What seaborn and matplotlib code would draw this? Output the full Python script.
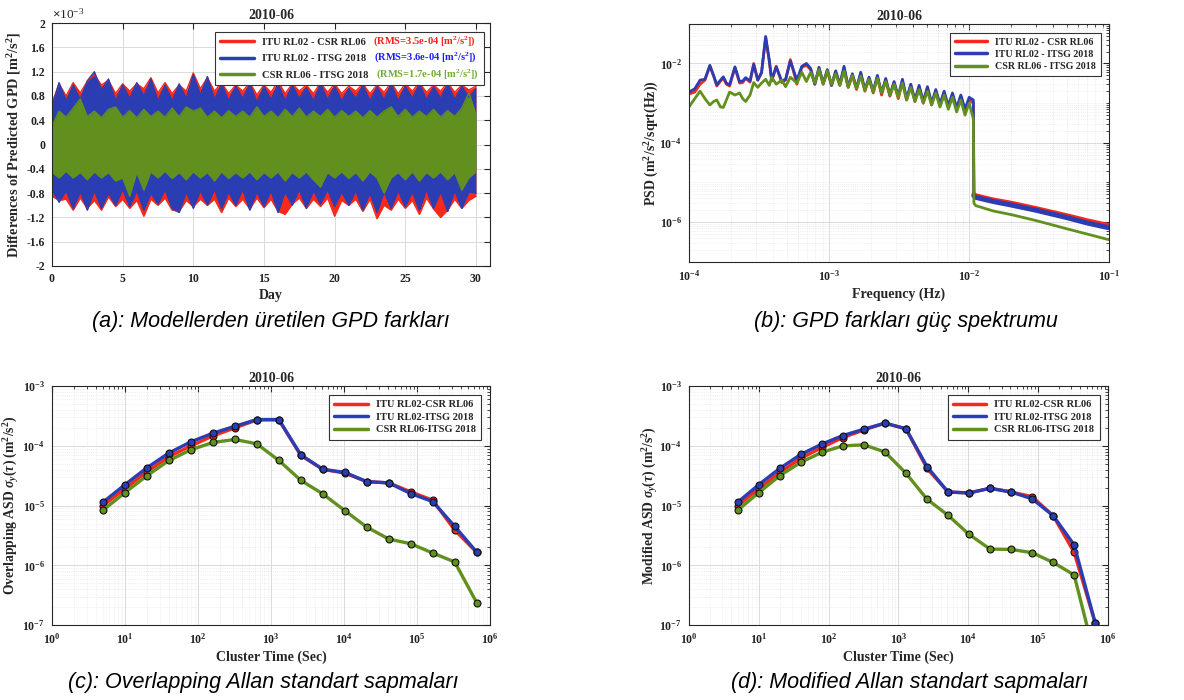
import numpy as np
import matplotlib
matplotlib.use("Agg")
import matplotlib.pyplot as plt
import seaborn as sns
from matplotlib.lines import Line2D
from matplotlib.patches import Rectangle
from matplotlib.transforms import Bbox
from matplotlib.ticker import LogLocator, NullFormatter

sns.set_style("white")
plt.rcParams['font.family'] = ['Liberation Serif', 'DejaVu Serif']
plt.rcParams['font.weight'] = 'bold'
plt.rcParams['axes.labelweight'] = 'bold'
plt.rcParams['axes.titleweight'] = 'bold'
plt.rcParams['mathtext.fontset'] = 'custom'
plt.rcParams['mathtext.rm'] = 'Liberation Serif:bold'
plt.rcParams['mathtext.it'] = 'Liberation Serif:italic:bold'
plt.rcParams['mathtext.bf'] = 'Liberation Serif:bold'

RED, BLUE, GREEN = '#F7291A', '#2A3DB2', '#62901E'
RMS_COLORS = ['#FF1E1E', '#1E1EFF', '#72AC36']

pairs_a = ['ITU RL02 - CSR RL06', 'ITU RL02 - ITSG 2018', 'CSR RL06 - ITSG 2018']
pairs_c = ['ITU RL02-CSR RL06', 'ITU RL02-ITSG 2018', 'CSR RL06-ITSG 2018']
rms_labels = ['(RMS=3.5e-04 [m$^2$/s$^2$])', '(RMS=3.6e-04 [m$^2$/s$^2$])', '(RMS=1.7e-04 [m$^2$/s$^2$])']

# (a) GPD differences, x1e-3 m^2/s^2 -- band edges read every half day
days = np.arange(0, 30.01, 0.5)
red_up = [0.68, 1.0, 0.8, 1.02, 0.85, 1.04, 1.15, 0.98, 1.06, 0.84, 1.0, 0.88, 1.0, 0.92, 1.1, 0.85, 1.02, 0.84, 0.98, 0.88,
          1.18, 0.92, 1.1, 0.88, 1.02, 0.84, 0.98, 0.88, 1.02, 0.82, 0.98, 0.86, 1.04, 0.84, 1.0, 0.88, 0.98, 0.84, 1.02, 0.86,
          1.0, 0.84, 0.96, 0.88, 1.0, 0.84, 0.98, 0.86, 1.02, 0.84, 1.0, 0.88, 1.02, 0.86, 0.98, 0.88, 1.02, 0.86, 0.98, 0.9, 0.96]
red_lo = [-0.85, -0.92, -0.9, -1.08, -0.88, -1.05, -0.92, -1.08, -0.86, -1.02, -0.9, -1.05, -0.92, -1.18, -0.9, -1.0, -0.88, -1.08, -1.1, -0.92,
          -1.02, -0.9, -1.0, -0.9, -1.12, -0.88, -1.02, -0.9, -1.06, -0.88, -1.04, -0.9, -1.1, -1.15, -0.98, -0.88, -1.05, -0.9, -1.02, -0.88,
          -1.18, -0.92, -1.0, -0.9, -1.1, -0.9, -1.22, -1.0, -1.08, -0.9, -1.05, -0.92, -1.15, -0.88, -1.06, -1.2, -1.08, -0.9, -1.05, -0.92, -0.85]
blue_up = [0.62, 1.02, 0.72, 0.98, 0.74, 1.05, 1.2, 0.9, 1.08, 0.72, 0.98, 0.76, 1.02, 0.8, 1.08, 0.72, 0.98, 0.72, 1.0, 0.76,
           1.15, 0.82, 1.12, 0.74, 1.0, 0.72, 0.96, 0.76, 1.0, 0.7, 0.95, 0.74, 1.0, 0.72, 0.98, 0.76, 0.94, 0.72, 1.0, 0.74,
           0.96, 0.72, 0.92, 0.76, 0.98, 0.72, 0.95, 0.74, 1.0, 0.72, 0.96, 0.76, 1.0, 0.74, 0.95, 0.76, 1.0, 0.74, 0.96, 0.78, 0.92]
blue_lo = [-0.74, -0.95, -0.76, -1.05, -0.78, -1.08, -0.76, -1.05, -0.8, -1.0, -0.74, -1.02, -0.76, -1.08, -0.8, -0.98, -0.74, -1.05, -1.12, -0.78,
           -1.05, -0.76, -1.0, -0.74, -1.05, -0.78, -1.0, -0.74, -1.08, -0.78, -1.02, -0.76, -1.12, -0.78, -1.0, -0.74, -1.05, -0.76, -0.98, -0.74,
           -1.02, -0.78, -1.0, -0.76, -1.08, -0.8, -1.12, -0.78, -1.05, -0.76, -1.02, -0.78, -1.08, -0.74, -1.05, -0.78, -1.1, -0.76, -1.05, -0.78, -0.8]
green_up = [0.3, 0.55, 0.45, 0.6, 0.75, 0.46, 0.55, 0.44, 0.58, 0.62, 0.45, 0.56, 0.44, 0.58, 0.46, 0.55, 0.45, 0.6, 0.46, 0.62,
            0.55, 0.6, 0.45, 0.55, 0.44, 0.56, 0.46, 0.55, 0.45, 0.62, 0.46, 0.55, 0.44, 0.58, 0.46, 0.6, 0.45, 0.55, 0.46, 0.58,
            0.45, 0.56, 0.46, 0.55, 0.44, 0.56, 0.45, 0.55, 0.62, 0.46, 0.58, 0.45, 0.55, 0.46, 0.58, 0.45, 0.56, 0.46, 0.6, 0.85, 0.5]
green_lo = [-0.45, -0.55, -0.44, -0.55, -0.46, -0.58, -0.45, -0.55, -0.46, -0.6, -0.55, -0.85, -0.46, -0.75, -0.45, -0.55, -0.44, -0.56, -0.46, -0.58,
            -0.45, -0.55, -0.46, -0.6, -0.45, -0.56, -0.46, -0.55, -0.45, -0.58, -0.46, -0.55, -0.45, -0.6, -0.46, -0.55, -0.45, -0.58, -0.7, -0.46,
            -0.55, -0.45, -0.56, -0.46, -0.6, -0.45, -0.55, -0.8, -0.55, -0.46, -0.58, -0.45, -0.6, -0.46, -0.55, -0.45, -0.58, -0.46, -0.75, -0.55, -0.45]

# (b) PSD -- low band (Hz x1e-4, PSD x1e-3), noisy band (x1e-3), high band (x1e-6)
f_low = [1.0, 1.1, 1.2, 1.3, 1.41, 1.5, 1.58, 1.68, 1.76, 1.85, 1.95, 2.13, 2.3, 2.42, 2.54, 2.73, 2.9, 3.1, 3.3, 3.53,
         3.75, 3.9, 4.2, 4.6, 4.9, 5.3, 5.9, 6.4, 6.9]
red_low = [1.7, 1.9, 3.0, 3.8, 8.5, 4.8, 2.7, 3.6, 4.3, 3.0, 2.7, 7.8, 3.2, 3.3, 4.2, 3.4, 10, 3.8, 5.8, 45, 11, 3.6, 8.5, 3.3, 3.8, 12.5, 3.0, 8.0, 9.0]
blue_low = [1.9, 2.3, 3.8, 4.0, 9.0, 5.0, 2.9, 3.8, 4.6, 3.2, 2.9, 8.2, 3.5, 3.6, 4.4, 3.6, 9.4, 3.8, 6.0, 48, 12, 3.8, 8.2, 3.6, 4.0, 11.5, 3.8, 8.5, 10]
green_low = [0.8, 1.3, 2.0, 1.3, 0.9, 1.1, 1.2, 0.8, 0.78, 1.2, 1.9, 1.6, 1.8, 1.3, 1.1, 1.6, 3.3, 2.5, 3.2, 4.0, 2.8, 4.5, 3.0, 3.8, 2.6, 4.5, 3.2, 6.0, 3.5]
f_mid = np.geomspace(7.4e-4, 1.075e-2, 40)
red_mid = [7.0, 3.0, 7.5, 3.0, 6.5, 2.8, 6.0, 2.8, 7.5, 2.5, 5.0, 2.2, 5.5, 2.0, 4.2, 1.8, 4.6, 1.6, 3.8, 1.5,
           3.2, 1.3, 3.5, 1.2, 2.8, 1.1, 2.5, 1.0, 2.4, 0.9, 2.0, 0.85, 1.8, 0.8, 1.6, 0.7, 1.5, 0.65, 1.2, 1.0]
blue_mid = [7.5, 3.0, 8.0, 3.2, 7.0, 2.8, 6.5, 3.0, 8.5, 2.6, 5.5, 2.4, 6.0, 2.2, 4.5, 2.0, 5.0, 1.8, 4.2, 1.6,
            3.5, 1.5, 4.0, 1.3, 3.0, 1.2, 2.8, 1.1, 2.6, 1.0, 2.2, 0.95, 2.0, 0.85, 1.8, 0.75, 1.6, 0.7, 1.4, 1.2]
green_mid = [6.0, 3.2, 7.0, 3.0, 6.5, 3.0, 5.5, 2.8, 6.5, 2.5, 5.0, 2.3, 4.8, 2.1, 4.0, 1.9, 4.2, 1.8, 3.5, 1.6,
             3.0, 1.4, 3.2, 1.2, 2.5, 1.1, 2.2, 1.0, 2.0, 0.9, 1.8, 0.8, 1.6, 0.7, 1.4, 0.6, 1.2, 0.5, 1.0, 0.4]
f_high = [1.085e-2, 1.12e-2, 1.5e-2, 2e-2, 3e-2, 5e-2, 7e-2, 1e-1]
red_high = [5.0, 4.6, 3.6, 3.0, 2.2, 1.45, 1.08, 0.82]
blue_high = [4.6, 4.2, 3.3, 2.7, 2.0, 1.3, 0.95, 0.72]
green_high = [3.0, 2.6, 1.9, 1.55, 1.1, 0.68, 0.5, 0.36]

# (c), (d) Allan deviations
tau = [5, 10, 20, 40, 80, 160, 320, 640, 1280, 2560, 5120, 10240, 20480, 40960, 81920, 163840, 327680, 655360]
oadev_red = [1.0e-5, 1.92e-5, 3.7e-5, 6.6e-5, 1.0e-4, 1.47e-4, 2.0e-4, 2.72e-4, 2.72e-4, 6.9e-5, 4.05e-5, 3.5e-5,
             2.52e-5, 2.4e-5, 1.7e-5, 1.23e-5, 3.9e-6, 1.65e-6]
oadev_blue = [1.14e-5, 2.24e-5, 4.3e-5, 7.6e-5, 1.17e-4, 1.63e-4, 2.13e-4, 2.76e-4, 2.76e-4, 7.07e-5, 4.05e-5, 3.6e-5,
              2.52e-5, 2.4e-5, 1.59e-5, 1.17e-5, 4.5e-6, 1.67e-6]
oadev_green = [8.4e-6, 1.65e-5, 3.17e-5, 5.7e-5, 8.6e-5, 1.14e-4, 1.28e-4, 1.08e-4, 5.7e-5, 2.65e-5, 1.57e-5, 8.25e-6,
               4.37e-6, 2.76e-6, 2.3e-6, 1.61e-6, 1.14e-6, 2.38e-7]
mdev_red = [1.0e-5, 1.92e-5, 3.6e-5, 6.2e-5, 9.4e-5, 1.38e-4, 1.85e-4, 2.4e-4, 1.93e-4, 4.2e-5, 1.69e-5, 1.63e-5,
            1.95e-5, 1.69e-5, 1.41e-5, 6.8e-6, 1.65e-6, 1.09e-7]
mdev_blue = [1.14e-5, 2.24e-5, 4.2e-5, 7.2e-5, 1.07e-4, 1.49e-4, 1.9e-4, 2.4e-4, 1.93e-4, 4.5e-5, 1.69e-5, 1.63e-5,
             1.95e-5, 1.69e-5, 1.3e-5, 6.8e-6, 2.2e-6, 1.09e-7]
mdev_green = [8.4e-6, 1.65e-5, 3.17e-5, 5.3e-5, 7.8e-5, 1.0e-4, 1.04e-4, 7.9e-5, 3.48e-5, 1.28e-5, 6.9e-6, 3.3e-6,
              1.87e-6, 1.85e-6, 1.63e-6, 1.12e-6, 6.9e-7, 2.8e-8]

fig = plt.figure(figsize=(11.84, 7), dpi=100)
ax_a = fig.add_axes([0.0439, 0.620, 0.370, 0.347])
ax_b = fig.add_axes([0.5819, 0.626, 0.3547, 0.340])
ax_c = fig.add_axes([0.0439, 0.107, 0.370, 0.3414])
ax_d = fig.add_axes([0.5819, 0.107, 0.3539, 0.3414])


def style_axes(ax, minor_grid):
    for s in ax.spines.values():
        s.set_color('#262626')
        s.set_linewidth(0.8)
    ax.tick_params(which='both', direction='in', top=True, right=True, labelsize=8.5,
                   colors='#262626', labelcolor='#222222', pad=5)
    ax.tick_params(which='major', length=4)
    ax.tick_params(which='minor', length=2)
    ax.grid(which='major', color='#dadada', lw=0.7)
    if minor_grid:
        ax.grid(which='minor', color='#e2e2e2', lw=0.5, ls=':')
    ax.set_axisbelow(True)
    ax.set_title('2010-06', fontsize=10, fontweight='bold', pad=3)


def series_handles():
    return [Line2D([], [], color=c, lw=2.5) for c in (RED, BLUE, GREEN)]


def make_legend(ax, labels, fontsize, spacing):
    leg = ax.legend(series_handles(), labels, loc='upper right', bbox_to_anchor=(0.98, 0.963), borderaxespad=0,
                    fancybox=False, framealpha=1, edgecolor='#333333',
                    handlelength=3.2, handletextpad=0.8, labelspacing=spacing, borderpad=0.5,
                    prop={'weight': 'bold', 'size': fontsize})
    leg.get_frame().set_linewidth(0.8)
    return leg


# ---- (a) ----
for up, lo, c in [(red_up, red_lo, RED), (blue_up, blue_lo, BLUE), (green_up, green_lo, GREEN)]:
    ax_a.fill_between(days, lo, up, color=c, lw=0)
    sns.lineplot(x=days, y=up, ax=ax_a, color=c, lw=1.0, estimator=None)
    sns.lineplot(x=days, y=lo, ax=ax_a, color=c, lw=1.0, estimator=None)
ax_a.set_xlim(0, 31)
ax_a.set_ylim(-2, 2)
ax_a.set_xticks([0, 5, 10, 15, 20, 25, 30])
yt = [-2, -1.6, -1.2, -0.8, -0.4, 0, 0.4, 0.8, 1.2, 1.6, 2]
ax_a.set_yticks(yt, labels=[f"{v:g}" for v in yt])
style_axes(ax_a, False)
ax_a.set_xlabel('Day', fontsize=10, labelpad=3)
ax_a.set_ylabel('Differences of Predicted GPD [m$^2$/s$^2$]', fontsize=10.3)
ax_a.yaxis.set_label_coords(-0.066, 0.5)
ax_a.text(0.0, 1.006, r'$\times\mathregular{10^{-3}}$', transform=ax_a.transAxes, fontsize=9.5,
          fontweight='normal', ha='left', va='bottom')

# legend of (a): black pair names plus coloured RMS notes, one shared frame
leg = ax_a.legend(series_handles(), pairs_a, loc='upper left', bbox_to_anchor=(0.372, 0.963), borderaxespad=0,
                  frameon=False, handlelength=3.2, handletextpad=0.8, labelspacing=0.68, borderpad=0.5,
                  prop={'weight': 'bold', 'size': 7.6})
leg.set_zorder(6)
notes = []
for t, r, c in zip(leg.get_texts(), rms_labels, RMS_COLORS):
    notes.append(ax_a.annotate(r, xy=(1, 0), xycoords=t, xytext=(5, -0.8), textcoords='offset points', ha='left',
                               va='bottom', fontsize=7.6, fontweight='bold', color=c, zorder=10,
                               annotation_clip=False))
fig.canvas.draw()
rend = fig.canvas.get_renderer()
box = Bbox.union([leg.get_window_extent(rend)] + [n.get_window_extent(rend) for n in notes])
inv = ax_a.transAxes.inverted()
(bx0, by0), (bx1, by1) = inv.transform([(box.x0, box.y0), (box.x1 + 5, box.y1)])
ax_a.add_patch(Rectangle((bx0, by0), bx1 - bx0, by1 - by0, transform=ax_a.transAxes, facecolor='white',
                         edgecolor='#333333', lw=0.8, zorder=5.5))

# ---- (b) ----
for lo_v, mid_v, hi_v, c in [(red_low, red_mid, red_high, RED), (blue_low, blue_mid, blue_high, BLUE),
                             (green_low, green_mid, green_high, GREEN)]:
    f = np.concatenate([np.array(f_low) * 1e-4, f_mid, f_high])
    p = np.concatenate([np.array(lo_v) * 1e-3, np.array(mid_v) * 1e-3, np.array(hi_v) * 1e-6])
    sns.lineplot(x=f, y=p, ax=ax_b, color=c, lw=2.0, estimator=None, sort=False)
    if c != GREEN:
        sns.lineplot(x=f_high, y=np.array(hi_v) * 1e-6, ax=ax_b, color=c, lw=3.6, estimator=None)
ax_b.set_xscale('log')
ax_b.set_yscale('log')
ax_b.set_xlim(1e-4, 1e-1)
ax_b.set_ylim(1e-7, 1e-1)
ax_b.set_yticks([1e-6, 1e-4, 1e-2])
ax_b.yaxis.set_minor_locator(LogLocator(base=10, subs=np.arange(1, 10), numticks=100))
ax_b.yaxis.set_minor_formatter(NullFormatter())
ax_b.xaxis.set_minor_locator(LogLocator(base=10, subs=np.arange(2, 10), numticks=100))
style_axes(ax_b, True)
ax_b.set_xlabel('Frequency (Hz)', fontsize=10, labelpad=3)
ax_b.set_ylabel('PSD (m$^2$/s$^2$/sqrt(Hz))', fontsize=10)
ax_b.yaxis.set_label_coords(-0.066, 0.5)
make_legend(ax_b, pairs_a, 7.2, 0.32)

# ---- (c), (d) ----
for ax, series, ylab in [(ax_c, (oadev_red, oadev_blue, oadev_green), r'Overlapping ASD $\sigma_y(\tau)$ (m$^2$/s$^2$)'),
                         (ax_d, (mdev_red, mdev_blue, mdev_green), r'Modified ASD $\sigma_y(\tau)$ (m$^2$/s$^2$)')]:
    for vals, c in zip(series, (RED, BLUE, GREEN)):
        sns.lineplot(x=tau, y=vals, ax=ax, color=c, lw=2.4, marker='o', markersize=5,
                     markerfacecolor=c, markeredgecolor='#111111', markeredgewidth=0.8, estimator=None)
    ax.set_xscale('log')
    ax.set_yscale('log')
    ax.set_xlim(1, 1e6)
    ax.set_ylim(1e-7, 1e-3)
    ax.xaxis.set_minor_locator(LogLocator(base=10, subs=np.arange(2, 10), numticks=100))
    ax.yaxis.set_minor_locator(LogLocator(base=10, subs=np.arange(2, 10), numticks=100))
    ax.xaxis.set_minor_formatter(NullFormatter())
    ax.yaxis.set_minor_formatter(NullFormatter())
    style_axes(ax, True)
    ax.set_xlabel('Cluster Time (Sec)', fontsize=10, labelpad=3)
    ax.set_ylabel(ylab, fontsize=9.8)
    ax.yaxis.set_label_coords(-0.07, 0.5)
    make_legend(ax, pairs_c, 7.5, 0.3)

cap = dict(family='Liberation Sans', style='italic', fontweight='normal', fontsize=15.5, color='black',
           ha='center', va='center')
fig.text(0.229, 0.541, '(a): Modellerden üretilen GPD farkları', **cap)
fig.text(0.765, 0.541, '(b): GPD farkları güç spektrumu', **cap)
fig.text(0.222, 0.025, '(c): Overlapping Allan standart sapmaları', **cap)
fig.text(0.768, 0.025, '(d): Modified Allan standart sapmaları', **cap)

fig.savefig('out.png', dpi=100)
